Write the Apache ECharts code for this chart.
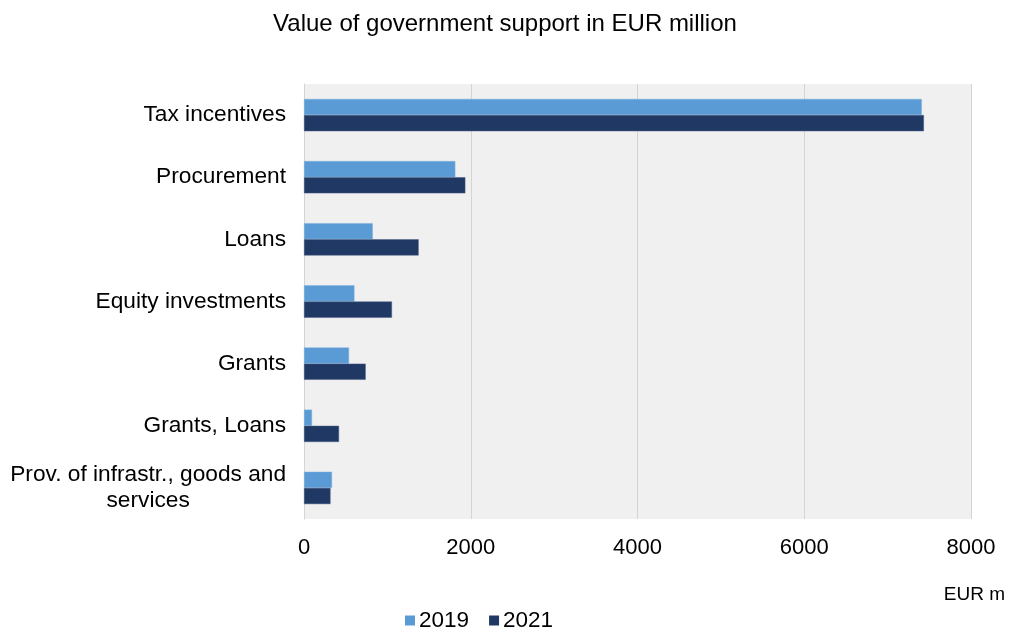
<!DOCTYPE html>
<html>
<head>
<meta charset="utf-8">
<script src="https://cdn.jsdelivr.net/npm/echarts@6/dist/echarts.min.js"></script>
<style>
  html, body { margin: 0; padding: 0; background: #ffffff; }
  #chart { width: 1010px; height: 627px; }
</style>
</head>
<body>
<div id="chart"></div>
<script>
// Support instruments, top to bottom
var categories = [
  'Tax incentives',
  'Procurement',
  'Loans',
  'Equity investments',
  'Grants',
  'Grants, Loans',
  'Prov. of infrastr., goods and\nservices'
];
// Value of government support, EUR million
var values2019 = [7410, 1815, 825, 605, 540, 96, 336];
var values2021 = [7435, 1935, 1375, 1055, 740, 420, 318];
var xTicks = [0, 2000, 4000, 6000, 8000];

var FONT = '"Liberation Sans", Arial, sans-serif';

var chart = echarts.init(document.getElementById('chart'), null, { renderer: 'canvas' });

chart.setOption({
  animation: false,
  textStyle: { fontFamily: FONT },
  title: {
    text: 'Value of government support in EUR million',
    left: 'center',
    top: 7,
    textStyle: { fontFamily: FONT, fontSize: 24, fontWeight: 'normal', color: '#000000' }
  },
  legend: {
    data: ['2019', '2021'],
    left: 400,
    top: 604,
    itemWidth: 10,
    itemHeight: 10,
    itemGap: 20,
    icon: 'rect',
    itemStyle: { borderWidth: 0 },
    textStyle: { fontFamily: FONT, fontSize: 22.5, color: '#000000', padding: [0, 0, 0, -1] }
  },
  graphic: [{
    type: 'text',
    right: 5,
    top: 585,
    style: { text: 'EUR m', font: '19px ' + FONT, fill: '#000000' }
  }],
  grid: {
    left: 304,
    right: 39,
    top: 84,
    bottom: 108,
    show: true,
    backgroundColor: '#f0f0f0',
    borderWidth: 0
  },
  xAxis: {
    type: 'value',
    min: xTicks[0],
    max: xTicks[xTicks.length - 1],
    interval: 2000,
    axisLine: { show: false },
    axisTick: { show: false },
    splitLine: { show: true, lineStyle: { color: '#d4d4d4', width: 1 } },
    axisLabel: {
      fontFamily: FONT, fontSize: 22, color: '#000000', margin: 18,
      formatter: function (v) { return String(v); }
    }
  },
  yAxis: {
    type: 'category',
    inverse: true,
    data: categories,
    axisLine: { show: true, lineStyle: { color: '#d4d4d4', width: 1 } },
    axisTick: { show: false },
    axisLabel: {
      margin: 18,
      align: 'right',
      color: '#000000',
      formatter: function (v) {
        return v.split('\n').map(function (line) { return '{c|' + line + '}'; }).join('\n');
      },
      rich: {
        c: { fontFamily: FONT, fontSize: 22.7, color: '#000000', align: 'center', lineHeight: 26 }
      }
    }
  },
  series: [
    {
      name: '2019',
      type: 'bar',
      data: values2019,
      barGap: '0%',
      barCategoryGap: '48%',
      itemStyle: { color: '#5b9bd5', borderColor: '#7fb0de', borderWidth: 0.5 }
    },
    {
      name: '2021',
      type: 'bar',
      data: values2021,
      barGap: '0%',
      barCategoryGap: '48%',
      itemStyle: { color: '#1f3864', borderColor: '#4a5f86', borderWidth: 0.5 }
    }
  ]
});
</script>
</body>
</html>
